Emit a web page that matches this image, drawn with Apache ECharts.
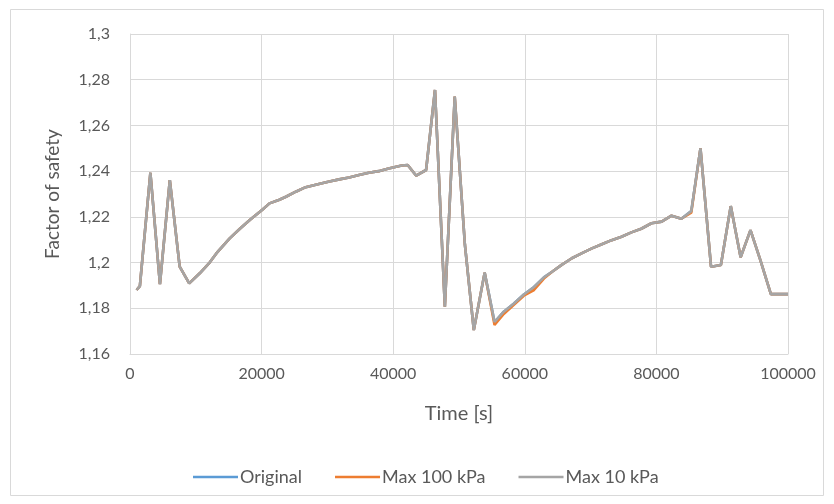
<!DOCTYPE html>
<html>
<head>
<meta charset="utf-8">
<script src="https://cdn.jsdelivr.net/npm/echarts@6/dist/echarts.min.js"></script>
<style>
  html, body { margin: 0; padding: 0; background: #ffffff; }
  #chart { width: 834px; height: 504px; }
</style>
</head>
<body>
<div id="chart"></div>
<script>
// Time steps of the simulation [s]
const timeSteps = [
  1000, 1500, 3100, 4550, 6050, 7550, 9000, 10600, 12100, 13150,
  15150, 16700, 18200, 20200, 21200, 22700, 23700, 25200, 26700, 28700,
  30300, 31800, 33300, 34800, 36300, 37800, 39300, 41300, 42200, 43500,
  45000, 46350, 47850, 49350, 50900, 52250, 53900, 55400, 56800, 58300,
  59850, 61400, 62900, 64150, 65600, 67150, 68700, 70200, 71700, 73200,
  74700, 76200, 77700, 79250, 80800, 82300, 83800, 85300, 86700, 88300,
  89800, 91300, 92800, 94300, 95800, 97400, 100000
];

// Factor of safety, original model
const fosOriginal = [
  1.1880, 1.1897, 1.2393, 1.1906, 1.2361, 1.1982, 1.1909, 1.1953, 1.2000, 1.2041,
  1.2106, 1.2148, 1.2186, 1.2233, 1.2259, 1.2275, 1.2288, 1.2310, 1.2330, 1.2344,
  1.2355, 1.2364, 1.2372, 1.2383, 1.2393, 1.2400, 1.2412, 1.2425, 1.2427, 1.2380,
  1.2405, 1.2755, 1.1807, 1.2726, 1.2077, 1.1705, 1.1956, 1.1740, 1.1785, 1.1820,
  1.1860, 1.1893, 1.1935, 1.1960, 1.1990, 1.2019, 1.2041, 1.2062, 1.2080, 1.2098,
  1.2113, 1.2132, 1.2148, 1.2172, 1.2179, 1.2205, 1.2192, 1.2225, 1.2500, 1.1982,
  1.1989, 1.2247, 1.2023, 1.2142, 1.2011, 1.1862, 1.1862
];

// Factor of safety, max 100 kPa
const fosMax100 = [
  1.1880, 1.1897, 1.2393, 1.1906, 1.2361, 1.1982, 1.1909, 1.1953, 1.2000, 1.2041,
  1.2106, 1.2148, 1.2186, 1.2233, 1.2259, 1.2275, 1.2288, 1.2310, 1.2330, 1.2344,
  1.2355, 1.2364, 1.2372, 1.2383, 1.2393, 1.2400, 1.2412, 1.2425, 1.2427, 1.2380,
  1.2405, 1.2755, 1.1807, 1.2726, 1.2077, 1.1705, 1.1956, 1.1727, 1.1775, 1.1814,
  1.1855, 1.1880, 1.1930, 1.1960, 1.1990, 1.2019, 1.2041, 1.2062, 1.2080, 1.2098,
  1.2113, 1.2132, 1.2148, 1.2172, 1.2179, 1.2205, 1.2192, 1.2218, 1.2500, 1.1982,
  1.1989, 1.2247, 1.2023, 1.2142, 1.2011, 1.1862, 1.1862
];

// Factor of safety, max 10 kPa
const fosMax10 = [
  1.1880, 1.1897, 1.2393, 1.1906, 1.2361, 1.1982, 1.1909, 1.1953, 1.2000, 1.2041,
  1.2106, 1.2148, 1.2186, 1.2233, 1.2259, 1.2275, 1.2288, 1.2310, 1.2330, 1.2344,
  1.2355, 1.2364, 1.2372, 1.2383, 1.2393, 1.2400, 1.2412, 1.2425, 1.2427, 1.2380,
  1.2405, 1.2755, 1.1807, 1.2726, 1.2077, 1.1705, 1.1956, 1.1740, 1.1785, 1.1820,
  1.1860, 1.1893, 1.1935, 1.1960, 1.1990, 1.2019, 1.2041, 1.2062, 1.2080, 1.2098,
  1.2113, 1.2132, 1.2148, 1.2172, 1.2179, 1.2205, 1.2192, 1.2225, 1.2500, 1.1982,
  1.1989, 1.2247, 1.2023, 1.2142, 1.2011, 1.1862, 1.1862
];

const seriesNames = ['Original', 'Max 100 kPa', 'Max 10 kPa'];
const seriesColors = ['#5b9bd5', '#ed7d31', '#a5a5a5'];

const pairs = (ys) => timeSteps.map((t, i) => [t, ys[i]]);
const decimalComma = (v) => String(Math.round(v * 100) / 100).replace('.', ',');
const plainNumber = (v) => String(Math.round(v));

const FONT = 'Lato, "Open Sans", sans-serif';
const TEXT = '#595959';
const GRID = '#d9d9d9';

const chart = echarts.init(document.getElementById('chart'), null, { renderer: 'canvas' });

const lineSeries = [fosOriginal, fosMax100, fosMax10].map((ys, i) => ({
  name: seriesNames[i],
  type: 'line',
  data: pairs(ys),
  showSymbol: false,
  symbol: 'none',
  lineStyle: { width: 2.6, color: seriesColors[i] },
  itemStyle: { color: seriesColors[i] },
  z: 2 + i
}));

chart.setOption({
  animation: false,
  backgroundColor: '#ffffff',
  graphic: [{
    type: 'rect',
    shape: { x: 10.5, y: 9.5, width: 813, height: 486 },
    style: { fill: 'none', stroke: GRID, lineWidth: 1 },
    silent: true,
    z: -1
  }],
  grid: { left: 130, right: 46, top: 34, bottom: 150, containLabel: false },
  legend: {
    data: seriesNames,
    bottom: 13,
    left: 188,
    itemWidth: 45,
    itemHeight: 2.5,
    itemGap: 33,
    icon: 'rect',
    textStyle: { color: TEXT, fontFamily: FONT, fontSize: 18, padding: [0, 0, 0, -3] }
  },
  xAxis: {
    type: 'value',
    min: 0,
    max: 100000,
    interval: 20000,
    name: 'Time [s]',
    nameLocation: 'middle',
    nameGap: 50,
    nameTextStyle: { color: TEXT, fontFamily: FONT, fontSize: 20 },
    axisLine: { show: true, lineStyle: { color: GRID } },
    axisTick: { show: false },
    axisLabel: { color: TEXT, fontFamily: FONT, fontSize: 16, margin: 12, formatter: plainNumber },
    splitLine: { show: true, lineStyle: { color: GRID, width: 1 } }
  },
  yAxis: {
    type: 'value',
    min: 1.16,
    max: 1.3,
    interval: 0.02,
    name: 'Factor of safety',
    nameLocation: 'middle',
    nameGap: 68,
    nameTextStyle: { color: TEXT, fontFamily: FONT, fontSize: 19 },
    axisLine: { show: true, lineStyle: { color: GRID } },
    axisTick: { show: false },
    axisLabel: { color: TEXT, fontFamily: FONT, fontSize: 16, margin: 20, formatter: decimalComma },
    splitLine: { show: true, lineStyle: { color: GRID, width: 1 } }
  },
  series: lineSeries
});
</script>
</body>
</html>
